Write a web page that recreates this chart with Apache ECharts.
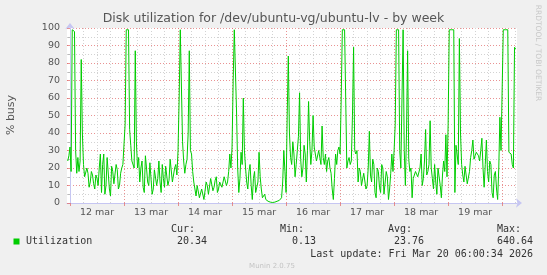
<!DOCTYPE html>
<html><head><meta charset="utf-8">
<script src="https://cdn.jsdelivr.net/npm/echarts@6/dist/echarts.min.js"></script>
<style>html,body{margin:0;padding:0;background:#f0f0f0}#c{width:547px;height:275px}</style>
</head><body><div id="c"></div>
<script>
// hours after 12 mar 00:00, one sample every 30 minutes
const startHour = -1;
const stepHours = 0.5;
const utilization = [
 24,27,
 32,18,99,99,98,30,17,26,18,24,82,40,22,15,14,20,17,9,12,18,16,11,8,16,14,10,20,28,6,22,28,5,10,26,25,8,4,21,18,11,12,22,19,8,10,17,20,22,
 22,45,99,99,99,42,33,24,25,20,87,35,20,26,12,20,24,9,6,27,20,12,10,23,22,5,8,19,18,10,14,24,12,6,22,14,9,21,20,10,13,25,24,12,11,20,22,16,
 30,60,99,99,35,24,17,22,25,40,87,30,28,18,12,8,4,10,9,3,2,8,7,2,3,12,10,5,6,14,14,7,9,13,15,6,8,12,13,9,10,15,14,10,12,18,28,20,
 32,70,99,99,52,20,6,14,29,22,60,30,20,12,8,18,22,10,2,14,18,6,5,12,29,15,8,3,3,5,2,1,1,0.5,0.5,0.3,0.3,0.4,0.5,0.8,1,1.2,1.5,2,3,12,30,18,
 6,50,84,40,26,22,35,28,15,22,30,38,63,25,15,20,33,28,12,30,58,35,22,30,50,32,28,24,25,30,30,22,44,26,22,28,18,24,26,20,17,8,2,14,28,22,30,32,
 28,60,99,99,99,99,20,24,26,22,24,50,89,30,28,30,12,20,18,10,9,17,16,8,10,20,41,16,12,25,22,6,3,20,18,9,6,22,20,5,4,18,15,2,8,17,28,18,
 30,45,99,99,99,30,20,60,99,30,10,40,87,25,18,20,3,14,16,18,17,15,15,20,28,10,14,24,42,16,18,22,47,20,14,8,22,12,5,20,20,10,3,16,24,18,39,15,
 45,99,99,99,99,99,6,33,33,22,94,40,22,16,12,21,20,11,11,18,26,30,36,25,27,29,28,27,24,30,37,20,9,22,36,18,12,24,22,6,3,16,18,8,2,20,49,30,
 30,99,99,99,99,99,29,30,28,22,20,89,88
];
const dayLabels = ['12 mar','13 mar','14 mar','15 mar','16 mar','17 mar','18 mar','19 mar'];
const legendName = 'Utilization';
const statHeads = ['Cur:','Min:','Avg:','Max:'];
const statValues = ['20.34','0.13','23.76','640.64'];
const lastUpdate = 'Last update: Fri Mar 20 06:00:34 2026';
const titleText = 'Disk utilization for /dev/ubuntu-vg/ubuntu-lv - by week';
const yName = '% busy';

const XMIN = -1.33, XMAX = 198.6;
const dayMidnights = [], dayNoons = [], sixHours = [];
for (let h = 0; h <= 198; h += 6) {
  if (h % 24 === 0) dayMidnights.push(h);
  else sixHours.push(h);
  if (h % 24 === 12 && dayNoons.length < dayLabels.length) dayNoons.push(h);
}
const seriesData = utilization.map((v, i) => [startHour + i * stepHours, v]);

const chart = echarts.init(document.getElementById('c'), null, {renderer: 'canvas'});
const axisBlue = '#c6c6f2';
const red = 'rgba(225,110,110,0.75)';
const gray = '#d2d2d2';
const mono = '10px "DejaVu Sans Mono"';
const txt = (text, x, y, align, font, fill, extra) => Object.assign({
  type: 'text', x: x, y: y, silent: true,
  style: {text: text, font: font, fill: fill, align: align, textAlign: align, verticalAlign: 'middle', textVerticalAlign: 'middle'}
}, extra || {});
const colHeadX = [171, 280, 388, 497];
const colValRight = [207, 316, 424, 533];
const graphics = [
  txt(yName, 11, 115, 'center', '11px "DejaVu Sans"', '#555', {rotation: Math.PI / 2}),
  txt('RRDTOOL / TOBI OETIKER', 538, 53, 'center', '7.5px "DejaVu Sans"', '#c8c8c8', {rotation: -Math.PI / 2}),
  {type: 'rect', shape: {x: 13.5, y: 238.5, width: 6, height: 6}, style: {fill: '#00cc00'}, silent: true},
  txt(legendName, 26, 241.5, 'left', mono, '#333'),
  txt(lastUpdate, 533, 254, 'right', mono, '#333'),
  txt('Munin 2.0.75', 272, 266.5, 'center', '7px "DejaVu Sans"', '#c4c4c4')
];
statHeads.forEach((s, i) => graphics.push(txt(s, colHeadX[i], 229, 'left', mono, '#333')));
statValues.forEach((s, i) => graphics.push(txt(s, colValRight[i], 241.5, 'right', mono, '#333')));

chart.setOption({
  backgroundColor: '#f0f0f0',
  animation: false,
  title: {text: titleText, left: 'center', top: 12, padding: 0,
    textStyle: {fontFamily: 'DejaVu Sans', fontSize: 12.5, fontWeight: 'normal', color: '#555'}},
  grid: {left: 67, right: 30, top: 28, bottom: 72, show: true, backgroundColor: '#fff', borderWidth: 0},
  xAxis: [
    {type: 'value', position: 'bottom', min: XMIN, max: XMAX,
      axisLine: {show: false}, axisLabel: {show: false},
      axisTick: {show: false, customValues: sixHours},
      splitLine: {show: true, lineStyle: {color: gray, type: [1, 2], width: 1}}},
    {type: 'value', position: 'bottom', min: XMIN, max: XMAX,
      axisLine: {show: true, lineStyle: {color: axisBlue, width: 1}, symbol: ['none', 'arrow'], symbolSize: [7, 6], symbolOffset: [0, 5]},
      axisTick: {show: true, customValues: dayMidnights, length: 3, lineStyle: {color: red}},
      axisLabel: {show: true, customValues: dayNoons, margin: 5, fontSize: 9.5, fontFamily: 'DejaVu Sans', color: '#555',
        formatter: v => dayLabels[Math.round((v - 12) / 24)]},
      splitLine: {show: true, lineStyle: {color: red, type: [1, 2], width: 1}}}
  ],
  yAxis: {type: 'value', min: 0, max: 100, interval: 10,
    axisLine: {show: true, lineStyle: {color: axisBlue, width: 1}, symbol: ['none', 'arrow'], symbolSize: [7, 6], symbolOffset: [0, 5]},
    axisTick: {show: true, length: 3, lineStyle: {color: red}},
    minorTick: {show: true, splitNumber: 2, length: 2, lineStyle: {color: '#bbb'}},
    axisLabel: {margin: 7, fontSize: 9.5, fontFamily: 'DejaVu Sans', color: '#555'},
    splitLine: {show: true, lineStyle: {color: red, type: [1, 2], width: 1}},
    minorSplitLine: {show: true, lineStyle: {color: gray, type: [1, 2], width: 1}}},
  series: [{type: 'line', xAxisIndex: 1, data: seriesData, showSymbol: false, symbol: 'none',
    lineStyle: {color: '#00cc00', width: 1}, itemStyle: {color: '#00cc00'}, z: 5}],
  graphic: graphics
});
</script></body></html>
